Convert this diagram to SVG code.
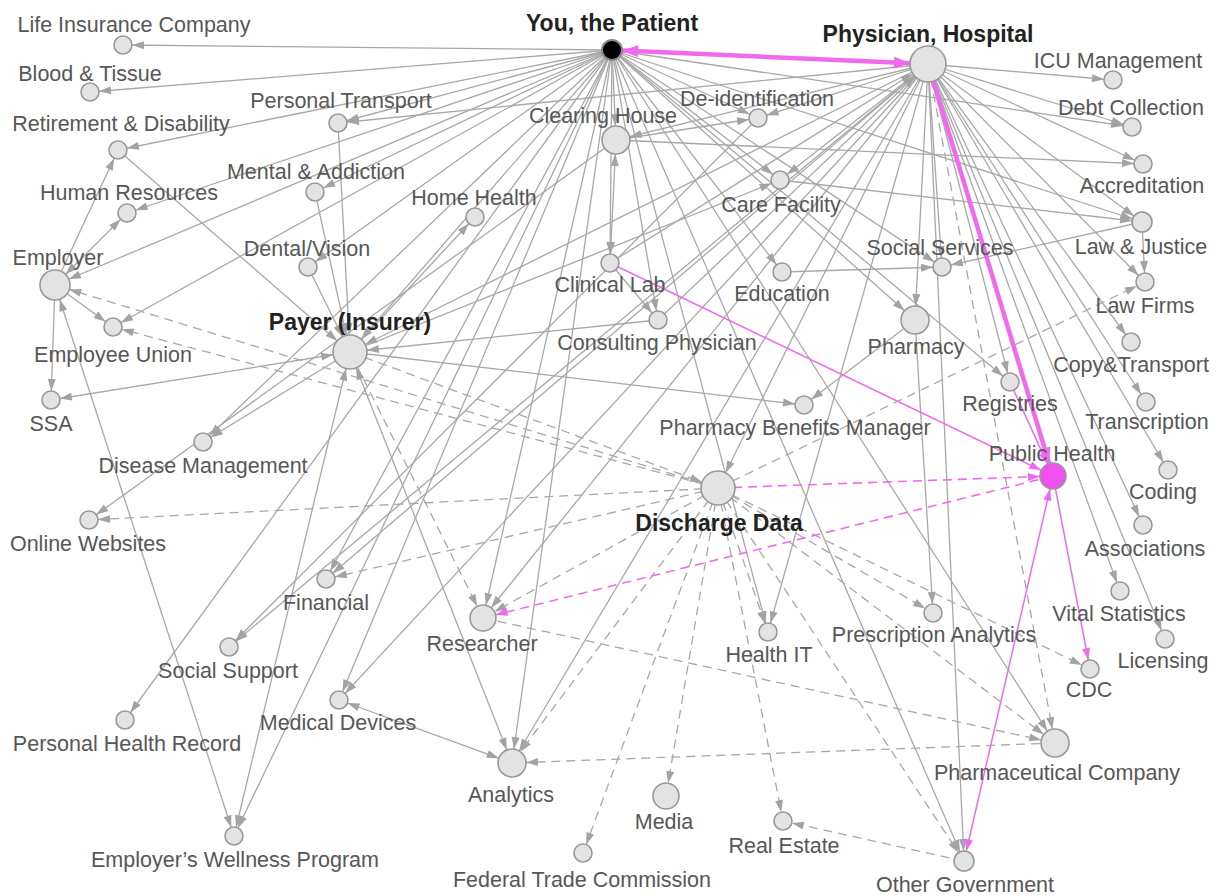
<svg xmlns="http://www.w3.org/2000/svg" width="1217" height="896" viewBox="0 0 1217 896">
<style>
.e{stroke:#a8a8a8;stroke-width:1.3;fill:none}
.d{stroke:#a8a8a8;stroke-width:1.3;fill:none;stroke-dasharray:9 6}
.m{stroke:#f06af0;stroke-width:1.5;fill:none}
.md{stroke:#f06af0;stroke-width:1.6;fill:none;stroke-dasharray:9 6}
.mt{stroke:#f06af0;stroke-width:4.5;fill:none}
.n{fill:#e3e3e3;stroke:#999;stroke-width:1.6}
.t{font-family:"Liberation Sans",Arial,sans-serif;font-size:21.5px;fill:#575757;text-anchor:middle}
.b{font-family:"Liberation Sans",Arial,sans-serif;font-size:23px;font-weight:bold;fill:#222;text-anchor:middle}
</style>
<defs>
<marker id="g9" markerUnits="userSpaceOnUse" markerWidth="13" markerHeight="9" refX="21" refY="4" orient="auto-start-reverse" overflow="visible"><path d="M0,0L12,4L0,8z" fill="#a3a3a3"/></marker>
<marker id="g10" markerUnits="userSpaceOnUse" markerWidth="13" markerHeight="9" refX="22" refY="4" orient="auto-start-reverse" overflow="visible"><path d="M0,0L12,4L0,8z" fill="#a3a3a3"/></marker>
<marker id="g13" markerUnits="userSpaceOnUse" markerWidth="13" markerHeight="9" refX="25" refY="4" orient="auto-start-reverse" overflow="visible"><path d="M0,0L12,4L0,8z" fill="#a3a3a3"/></marker>
<marker id="g14" markerUnits="userSpaceOnUse" markerWidth="13" markerHeight="9" refX="26" refY="4" orient="auto-start-reverse" overflow="visible"><path d="M0,0L12,4L0,8z" fill="#a3a3a3"/></marker>
<marker id="g15" markerUnits="userSpaceOnUse" markerWidth="13" markerHeight="9" refX="27" refY="4" orient="auto-start-reverse" overflow="visible"><path d="M0,0L12,4L0,8z" fill="#a3a3a3"/></marker>
<marker id="g17" markerUnits="userSpaceOnUse" markerWidth="13" markerHeight="9" refX="29" refY="4" orient="auto-start-reverse" overflow="visible"><path d="M0,0L12,4L0,8z" fill="#a3a3a3"/></marker>
<marker id="g18" markerUnits="userSpaceOnUse" markerWidth="13" markerHeight="9" refX="30" refY="4" orient="auto-start-reverse" overflow="visible"><path d="M0,0L12,4L0,8z" fill="#a3a3a3"/></marker>
<marker id="m9" markerUnits="userSpaceOnUse" markerWidth="13" markerHeight="9" refX="21" refY="4" orient="auto-start-reverse" overflow="visible"><path d="M0,0L12,4L0,8z" fill="#f06af0"/></marker>
<marker id="m10" markerUnits="userSpaceOnUse" markerWidth="13" markerHeight="9" refX="22" refY="4" orient="auto-start-reverse" overflow="visible"><path d="M0,0L12,4L0,8z" fill="#f06af0"/></marker>
<marker id="m13" markerUnits="userSpaceOnUse" markerWidth="13" markerHeight="9" refX="25" refY="4" orient="auto-start-reverse" overflow="visible"><path d="M0,0L12,4L0,8z" fill="#f06af0"/></marker>
<marker id="t10" markerUnits="userSpaceOnUse" markerWidth="16" markerHeight="12" refX="26" refY="6" orient="auto-start-reverse" overflow="visible"><path d="M0,0L16,6L0,12z" fill="#f06af0"/></marker>
<marker id="t13" markerUnits="userSpaceOnUse" markerWidth="16" markerHeight="12" refX="29" refY="6" orient="auto-start-reverse" overflow="visible"><path d="M0,0L16,6L0,12z" fill="#f06af0"/></marker>
<marker id="t18" markerUnits="userSpaceOnUse" markerWidth="16" markerHeight="12" refX="34" refY="6" orient="auto-start-reverse" overflow="visible"><path d="M0,0L16,6L0,12z" fill="#f06af0"/></marker>
</defs>
<rect width="1217" height="896" fill="#fff"/>
<g id="connectors">
<line class="e" x1="612" y1="50" x2="123" y2="45" marker-end="url(#g9)"/>
<line class="e" x1="612" y1="50" x2="90" y2="92" marker-end="url(#g9)"/>
<line class="e" x1="612" y1="50" x2="118" y2="150" marker-end="url(#g9)"/>
<line class="e" x1="612" y1="50" x2="127" y2="213" marker-end="url(#g9)"/>
<line class="e" x1="612" y1="50" x2="55" y2="285" marker-end="url(#g15)"/>
<line class="e" x1="612" y1="50" x2="113" y2="327" marker-end="url(#g9)"/>
<line class="e" x1="612" y1="50" x2="315" y2="192" marker-end="url(#g9)"/>
<line class="e" x1="612" y1="50" x2="338" y2="123" marker-end="url(#g9)"/>
<line class="e" x1="612" y1="50" x2="308" y2="267" marker-end="url(#g9)"/>
<line class="e" x1="612" y1="50" x2="350" y2="352" marker-end="url(#g17)"/>
<line class="e" x1="612" y1="50" x2="616" y2="140" marker-end="url(#g14)"/>
<line class="e" x1="612" y1="50" x2="758" y2="118" marker-end="url(#g9)"/>
<line class="e" x1="612" y1="50" x2="780" y2="180" marker-end="url(#g9)"/>
<line class="e" x1="612" y1="50" x2="782" y2="272" marker-end="url(#g9)"/>
<line class="e" x1="612" y1="50" x2="915" y2="320" marker-end="url(#g14)"/>
<line class="e" x1="612" y1="50" x2="658" y2="320" marker-end="url(#g9)"/>
<line class="e" x1="612" y1="50" x2="203" y2="442" marker-end="url(#g9)"/>
<line class="e" x1="612" y1="50" x2="326" y2="579" marker-end="url(#g9)"/>
<line class="e" x1="612" y1="50" x2="125" y2="720" marker-end="url(#g9)"/>
<line class="e" x1="612" y1="50" x2="234" y2="836" marker-end="url(#g9)"/>
<line class="e" x1="612" y1="50" x2="339" y2="700" marker-end="url(#g9)"/>
<line class="e" x1="612" y1="50" x2="512" y2="763" marker-end="url(#g14)"/>
<line class="e" x1="612" y1="50" x2="483" y2="618" marker-end="url(#g13)"/>
<line class="e" x1="612" y1="50" x2="768" y2="632" marker-end="url(#g9)"/>
<line class="e" x1="612" y1="50" x2="1055" y2="743" marker-end="url(#g14)"/>
<line class="e" x1="612" y1="50" x2="964" y2="861" marker-end="url(#g10)"/>
<line class="e" x1="612" y1="50" x2="1132" y2="127" marker-end="url(#g9)"/>
<line class="e" x1="612" y1="50" x2="1142" y2="222" marker-end="url(#g10)"/>
<line class="e" x1="612" y1="50" x2="942" y2="267" marker-end="url(#g9)"/>
<line class="e" x1="612" y1="50" x2="1010" y2="382" marker-end="url(#g9)"/>
<line class="e" x1="612" y1="50" x2="610" y2="263" marker-end="url(#g9)"/>
<line class="e" x1="928" y1="64" x2="1113" y2="80" marker-end="url(#g9)"/>
<line class="e" x1="928" y1="64" x2="1132" y2="127" marker-end="url(#g9)"/>
<line class="e" x1="928" y1="64" x2="1143" y2="164" marker-end="url(#g9)"/>
<line class="e" x1="928" y1="64" x2="1142" y2="222" marker-end="url(#g10)"/>
<line class="e" x1="928" y1="64" x2="1145" y2="282" marker-end="url(#g9)"/>
<line class="e" x1="928" y1="64" x2="1131" y2="342" marker-end="url(#g9)"/>
<line class="e" x1="928" y1="64" x2="1146" y2="402" marker-end="url(#g9)"/>
<line class="e" x1="928" y1="64" x2="1168" y2="470" marker-end="url(#g9)"/>
<line class="e" x1="928" y1="64" x2="1143" y2="525" marker-end="url(#g9)"/>
<line class="e" x1="928" y1="64" x2="1120" y2="591" marker-end="url(#g9)"/>
<line class="e" x1="928" y1="64" x2="1165" y2="639" marker-end="url(#g9)"/>
<line class="e" x1="928" y1="64" x2="1010" y2="382" marker-end="url(#g9)"/>
<line class="e" x1="928" y1="64" x2="915" y2="320" marker-end="url(#g14)"/>
<line class="e" x1="928" y1="64" x2="942" y2="267" marker-end="url(#g9)"/>
<line class="d" x1="928" y1="64" x2="1055" y2="743" marker-end="url(#g14)"/>
<line class="e" x1="928" y1="64" x2="964" y2="861" marker-end="url(#g10)"/>
<line class="e" x1="928" y1="64" x2="338" y2="123" marker-end="url(#g9)"/>
<line class="e" x1="928" y1="64" x2="616" y2="140" marker-end="url(#g14)"/>
<line class="e" x1="928" y1="64" x2="758" y2="118" marker-end="url(#g9)"/>
<line class="e" x1="928" y1="64" x2="780" y2="180" marker-end="url(#g9)"/>
<line class="e" x1="928" y1="64" x2="350" y2="352" marker-end="url(#g17)"/>
<line class="e" x1="928" y1="64" x2="718" y2="488" marker-end="url(#g17)"/>
<line class="e" x1="928" y1="64" x2="768" y2="632" marker-end="url(#g9)"/>
<line class="e" x1="928" y1="64" x2="339" y2="700" marker-end="url(#g9)"/>
<line class="e" x1="928" y1="64" x2="512" y2="763" marker-end="url(#g14)"/>
<line class="e" x1="928" y1="64" x2="483" y2="618" marker-end="url(#g13)"/>
<line class="e" x1="928" y1="64" x2="229" y2="647" marker-end="url(#g9)"/>
<line class="e" x1="928" y1="64" x2="326" y2="579" marker-end="url(#g9)"/>
<line class="e" x1="610" y1="263" x2="928" y2="64" marker-end="url(#g18)"/>
<line class="e" x1="658" y1="320" x2="928" y2="64" marker-end="url(#g18)"/>
<line class="e" x1="55" y1="285" x2="118" y2="150" marker-end="url(#g9)"/>
<line class="e" x1="55" y1="285" x2="127" y2="213" marker-start="url(#g15)" marker-end="url(#g9)"/>
<line class="e" x1="55" y1="285" x2="113" y2="327" marker-end="url(#g9)"/>
<line class="e" x1="55" y1="285" x2="51" y2="400" marker-end="url(#g9)"/>
<line class="e" x1="55" y1="285" x2="234" y2="836" marker-start="url(#g15)" marker-end="url(#g9)"/>
<line class="e" x1="118" y1="150" x2="350" y2="352" marker-end="url(#g17)"/>
<line class="e" x1="338" y1="123" x2="350" y2="352" marker-end="url(#g17)"/>
<line class="e" x1="315" y1="192" x2="350" y2="352" marker-end="url(#g17)"/>
<line class="e" x1="308" y1="267" x2="350" y2="352" marker-end="url(#g17)"/>
<line class="e" x1="350" y1="352" x2="51" y2="400" marker-start="url(#g17)" marker-end="url(#g9)"/>
<line class="e" x1="350" y1="352" x2="203" y2="442" marker-end="url(#g9)"/>
<line class="e" x1="350" y1="352" x2="804" y2="405" marker-end="url(#g9)"/>
<line class="e" x1="658" y1="320" x2="350" y2="352" marker-end="url(#g17)"/>
<line class="e" x1="350" y1="352" x2="512" y2="763" marker-start="url(#g17)" marker-end="url(#g14)"/>
<line class="e" x1="350" y1="352" x2="234" y2="836" marker-start="url(#g17)" marker-end="url(#g9)"/>
<line class="e" x1="350" y1="352" x2="475" y2="217" marker-end="url(#g9)"/>
<line class="e" x1="350" y1="352" x2="780" y2="180" marker-end="url(#g9)"/>
<line class="e" x1="616" y1="140" x2="610" y2="263" marker-start="url(#g14)" marker-end="url(#g9)"/>
<line class="e" x1="610" y1="263" x2="658" y2="320" marker-end="url(#g9)"/>
<line class="e" x1="616" y1="140" x2="89" y2="520" marker-end="url(#g9)"/>
<line class="e" x1="616" y1="140" x2="758" y2="118" marker-end="url(#g9)"/>
<line class="e" x1="616" y1="140" x2="1143" y2="164" marker-end="url(#g9)"/>
<line class="e" x1="780" y1="180" x2="1142" y2="222" marker-end="url(#g10)"/>
<line class="e" x1="782" y1="272" x2="942" y2="267" marker-end="url(#g9)"/>
<line class="e" x1="1142" y1="222" x2="942" y2="267" marker-end="url(#g9)"/>
<line class="e" x1="1142" y1="222" x2="1145" y2="282" marker-end="url(#g9)"/>
<line class="e" x1="915" y1="320" x2="804" y2="405" marker-end="url(#g9)"/>
<line class="e" x1="915" y1="320" x2="933" y2="613" marker-end="url(#g9)"/>
<line class="e" x1="339" y1="700" x2="512" y2="763" marker-start="url(#g9)" marker-end="url(#g14)"/>
<line class="e" x1="758" y1="118" x2="229" y2="647" marker-end="url(#g9)"/>
<line class="d" x1="718" y1="488" x2="55" y2="285" marker-end="url(#g15)"/>
<line class="d" x1="718" y1="488" x2="113" y2="327" marker-end="url(#g9)"/>
<line class="d" x1="718" y1="488" x2="89" y2="520" marker-end="url(#g9)"/>
<line class="d" x1="718" y1="488" x2="326" y2="579" marker-end="url(#g9)"/>
<line class="d" x1="718" y1="488" x2="483" y2="618" marker-end="url(#g13)"/>
<line class="d" x1="718" y1="488" x2="512" y2="763" marker-end="url(#g14)"/>
<line class="d" x1="718" y1="488" x2="666" y2="796" marker-end="url(#g13)"/>
<line class="d" x1="718" y1="488" x2="583" y2="853" marker-end="url(#g9)"/>
<line class="d" x1="718" y1="488" x2="783" y2="821" marker-end="url(#g9)"/>
<line class="d" x1="718" y1="488" x2="768" y2="632" marker-end="url(#g9)"/>
<line class="d" x1="718" y1="488" x2="933" y2="613" marker-end="url(#g9)"/>
<line class="d" x1="718" y1="488" x2="1090" y2="669" marker-end="url(#g9)"/>
<line class="d" x1="718" y1="488" x2="1055" y2="743" marker-end="url(#g14)"/>
<line class="d" x1="718" y1="488" x2="964" y2="861" marker-end="url(#g10)"/>
<line class="d" x1="718" y1="488" x2="1145" y2="282" marker-end="url(#g9)"/>
<line class="d" x1="350" y1="352" x2="718" y2="488" marker-end="url(#g17)"/>
<line class="d" x1="350" y1="352" x2="483" y2="618" marker-end="url(#g13)"/>
<line class="d" x1="483" y1="618" x2="1055" y2="743" marker-end="url(#g14)"/>
<line class="d" x1="1055" y1="743" x2="512" y2="763" marker-end="url(#g14)"/>
<line class="d" x1="964" y1="861" x2="783" y2="821" marker-end="url(#g9)"/>
<line class="m" x1="610" y1="263" x2="1053" y2="476" marker-end="url(#m13)"/>
<line class="m" x1="1010" y1="382" x2="1053" y2="476" marker-end="url(#m13)"/>
<line class="m" x1="1053" y1="476" x2="1090" y2="669" marker-end="url(#m9)"/>
<line class="m" x1="1053" y1="476" x2="964" y2="861" marker-start="url(#m13)" marker-end="url(#m10)"/>
<line class="md" x1="718" y1="488" x2="1053" y2="476" marker-end="url(#m13)"/>
<line class="md" x1="1053" y1="476" x2="483" y2="618" marker-end="url(#m13)"/>
<line class="mt" x1="612" y1="50" x2="928" y2="64" marker-start="url(#t10)" marker-end="url(#t18)"/>
<line class="mt" x1="928" y1="64" x2="1053" y2="476" marker-end="url(#t13)"/>
</g>
<g id="nodes">
<g id="n-patient"><circle cx="612" cy="50" r="10" fill="#000" stroke="#888" stroke-width="2"/><text class="b" x="612" y="31">You, the Patient</text></g>
<g id="n-physician"><circle class="n" cx="928" cy="64" r="18"/><text class="b" x="928" y="42">Physician, Hospital</text></g>
<g id="n-payer"><circle class="n" cx="350" cy="352" r="17"/><text class="b" x="350" y="330">Payer (Insurer)</text></g>
<g id="n-discharge"><circle class="n" cx="718" cy="488" r="17"/><text class="b" x="719" y="531">Discharge Data</text></g>
<g id="n-life"><circle class="n" cx="123" cy="45" r="9"/><text class="t" x="134" y="32">Life Insurance Company</text></g>
<g id="n-blood"><circle class="n" cx="90" cy="92" r="9"/><text class="t" x="90" y="81">Blood &amp; Tissue</text></g>
<g id="n-retire"><circle class="n" cx="118" cy="150" r="9"/><text class="t" x="121" y="131">Retirement &amp; Disability</text></g>
<g id="n-hr"><circle class="n" cx="127" cy="213" r="9"/><text class="t" x="129" y="200">Human Resources</text></g>
<g id="n-employer"><circle class="n" cx="55" cy="285" r="15"/><text class="t" x="58" y="265">Employer</text></g>
<g id="n-union"><circle class="n" cx="113" cy="327" r="9"/><text class="t" x="113" y="362">Employee Union</text></g>
<g id="n-ssa"><circle class="n" cx="51" cy="400" r="9"/><text class="t" x="51" y="431">SSA</text></g>
<g id="n-disease"><circle class="n" cx="203" cy="442" r="9"/><text class="t" x="203" y="473">Disease Management</text></g>
<g id="n-online"><circle class="n" cx="89" cy="520" r="9"/><text class="t" x="88" y="551">Online Websites</text></g>
<g id="n-financial"><circle class="n" cx="326" cy="579" r="9"/><text class="t" x="326" y="610">Financial</text></g>
<g id="n-social-support"><circle class="n" cx="229" cy="647" r="9"/><text class="t" x="228" y="678">Social Support</text></g>
<g id="n-phr"><circle class="n" cx="125" cy="720" r="9"/><text class="t" x="127" y="751">Personal Health Record</text></g>
<g id="n-wellness"><circle class="n" cx="234" cy="836" r="9"/><text class="t" x="235" y="867">Employer’s Wellness Program</text></g>
<g id="n-devices"><circle class="n" cx="339" cy="700" r="9"/><text class="t" x="338" y="730">Medical Devices</text></g>
<g id="n-researcher"><circle class="n" cx="483" cy="618" r="13"/><text class="t" x="482" y="651">Researcher</text></g>
<g id="n-analytics"><circle class="n" cx="512" cy="763" r="14"/><text class="t" x="511" y="802">Analytics</text></g>
<g id="n-media"><circle class="n" cx="666" cy="796" r="13"/><text class="t" x="664" y="829">Media</text></g>
<g id="n-ftc"><circle class="n" cx="583" cy="853" r="9"/><text class="t" x="582" y="887">Federal Trade Commission</text></g>
<g id="n-realestate"><circle class="n" cx="783" cy="821" r="9"/><text class="t" x="784" y="853">Real Estate</text></g>
<g id="n-othergov"><circle class="n" cx="964" cy="861" r="10"/><text class="t" x="965" y="892">Other Government</text></g>
<g id="n-pharma"><circle class="n" cx="1055" cy="743" r="14"/><text class="t" x="1057" y="780">Pharmaceutical Company</text></g>
<g id="n-cdc"><circle class="n" cx="1090" cy="669" r="9"/><text class="t" x="1089" y="697">CDC</text></g>
<g id="n-licensing"><circle class="n" cx="1165" cy="639" r="9"/><text class="t" x="1163" y="668">Licensing</text></g>
<g id="n-vital"><circle class="n" cx="1120" cy="591" r="9"/><text class="t" x="1119" y="621">Vital Statistics</text></g>
<g id="n-assoc"><circle class="n" cx="1143" cy="525" r="9"/><text class="t" x="1145" y="556">Associations</text></g>
<g id="n-coding"><circle class="n" cx="1168" cy="470" r="9"/><text class="t" x="1163" y="499">Coding</text></g>
<g id="n-transcription"><circle class="n" cx="1146" cy="402" r="9"/><text class="t" x="1147" y="429">Transcription</text></g>
<g id="n-copy"><circle class="n" cx="1131" cy="342" r="9"/><text class="t" x="1131" y="372">Copy&amp;Transport</text></g>
<g id="n-lawfirms"><circle class="n" cx="1145" cy="282" r="9"/><text class="t" x="1145" y="313">Law Firms</text></g>
<g id="n-lawjustice"><circle class="n" cx="1142" cy="222" r="10"/><text class="t" x="1141" y="254">Law &amp; Justice</text></g>
<g id="n-accred"><circle class="n" cx="1143" cy="164" r="9"/><text class="t" x="1142" y="193">Accreditation</text></g>
<g id="n-debt"><circle class="n" cx="1132" cy="127" r="9"/><text class="t" x="1131" y="115">Debt Collection</text></g>
<g id="n-icu"><circle class="n" cx="1113" cy="80" r="9"/><text class="t" x="1118" y="68">ICU Management</text></g>
<g id="n-publichealth"><circle cx="1053" cy="476" r="13" fill="#f050f0" stroke="#999" stroke-width="1.6"/><text class="t" x="1052" y="461">Public Health</text></g>
<g id="n-registries"><circle class="n" cx="1010" cy="382" r="9"/><text class="t" x="1010" y="411">Registries</text></g>
<g id="n-pharmacy"><circle class="n" cx="915" cy="320" r="14"/><text class="t" x="916" y="354">Pharmacy</text></g>
<g id="n-socialservices"><circle class="n" cx="942" cy="267" r="9"/><text class="t" x="940" y="255">Social Services</text></g>
<g id="n-education"><circle class="n" cx="782" cy="272" r="9"/><text class="t" x="782" y="301">Education</text></g>
<g id="n-carefacility"><circle class="n" cx="780" cy="180" r="9"/><text class="t" x="781" y="212">Care Facility</text></g>
<g id="n-deid"><circle class="n" cx="758" cy="118" r="9"/><text class="t" x="757" y="106">De-identification</text></g>
<g id="n-clearing"><circle class="n" cx="616" cy="140" r="14"/><text class="t" x="603" y="123">Clearing House</text></g>
<g id="n-clinlab"><circle class="n" cx="610" cy="263" r="9"/><text class="t" x="610" y="292">Clinical Lab</text></g>
<g id="n-consult"><circle class="n" cx="658" cy="320" r="9"/><text class="t" x="657" y="350">Consulting Physician</text></g>
<g id="n-pbm"><circle class="n" cx="804" cy="405" r="9"/><text class="t" x="795" y="435">Pharmacy Benefits Manager</text></g>
<g id="n-healthit"><circle class="n" cx="768" cy="632" r="9"/><text class="t" x="769" y="662">Health IT</text></g>
<g id="n-rxanalytics"><circle class="n" cx="933" cy="613" r="9"/><text class="t" x="934" y="642">Prescription Analytics</text></g>
<g id="n-transport"><circle class="n" cx="338" cy="123" r="9"/><text class="t" x="341" y="108">Personal Transport</text></g>
<g id="n-mental"><circle class="n" cx="315" cy="192" r="9"/><text class="t" x="316" y="179">Mental &amp; Addiction</text></g>
<g id="n-homehealth"><circle class="n" cx="475" cy="217" r="9"/><text class="t" x="474" y="205">Home Health</text></g>
<g id="n-dental"><circle class="n" cx="308" cy="267" r="9"/><text class="t" x="307" y="256">Dental/Vision</text></g>
</g>
</svg>
